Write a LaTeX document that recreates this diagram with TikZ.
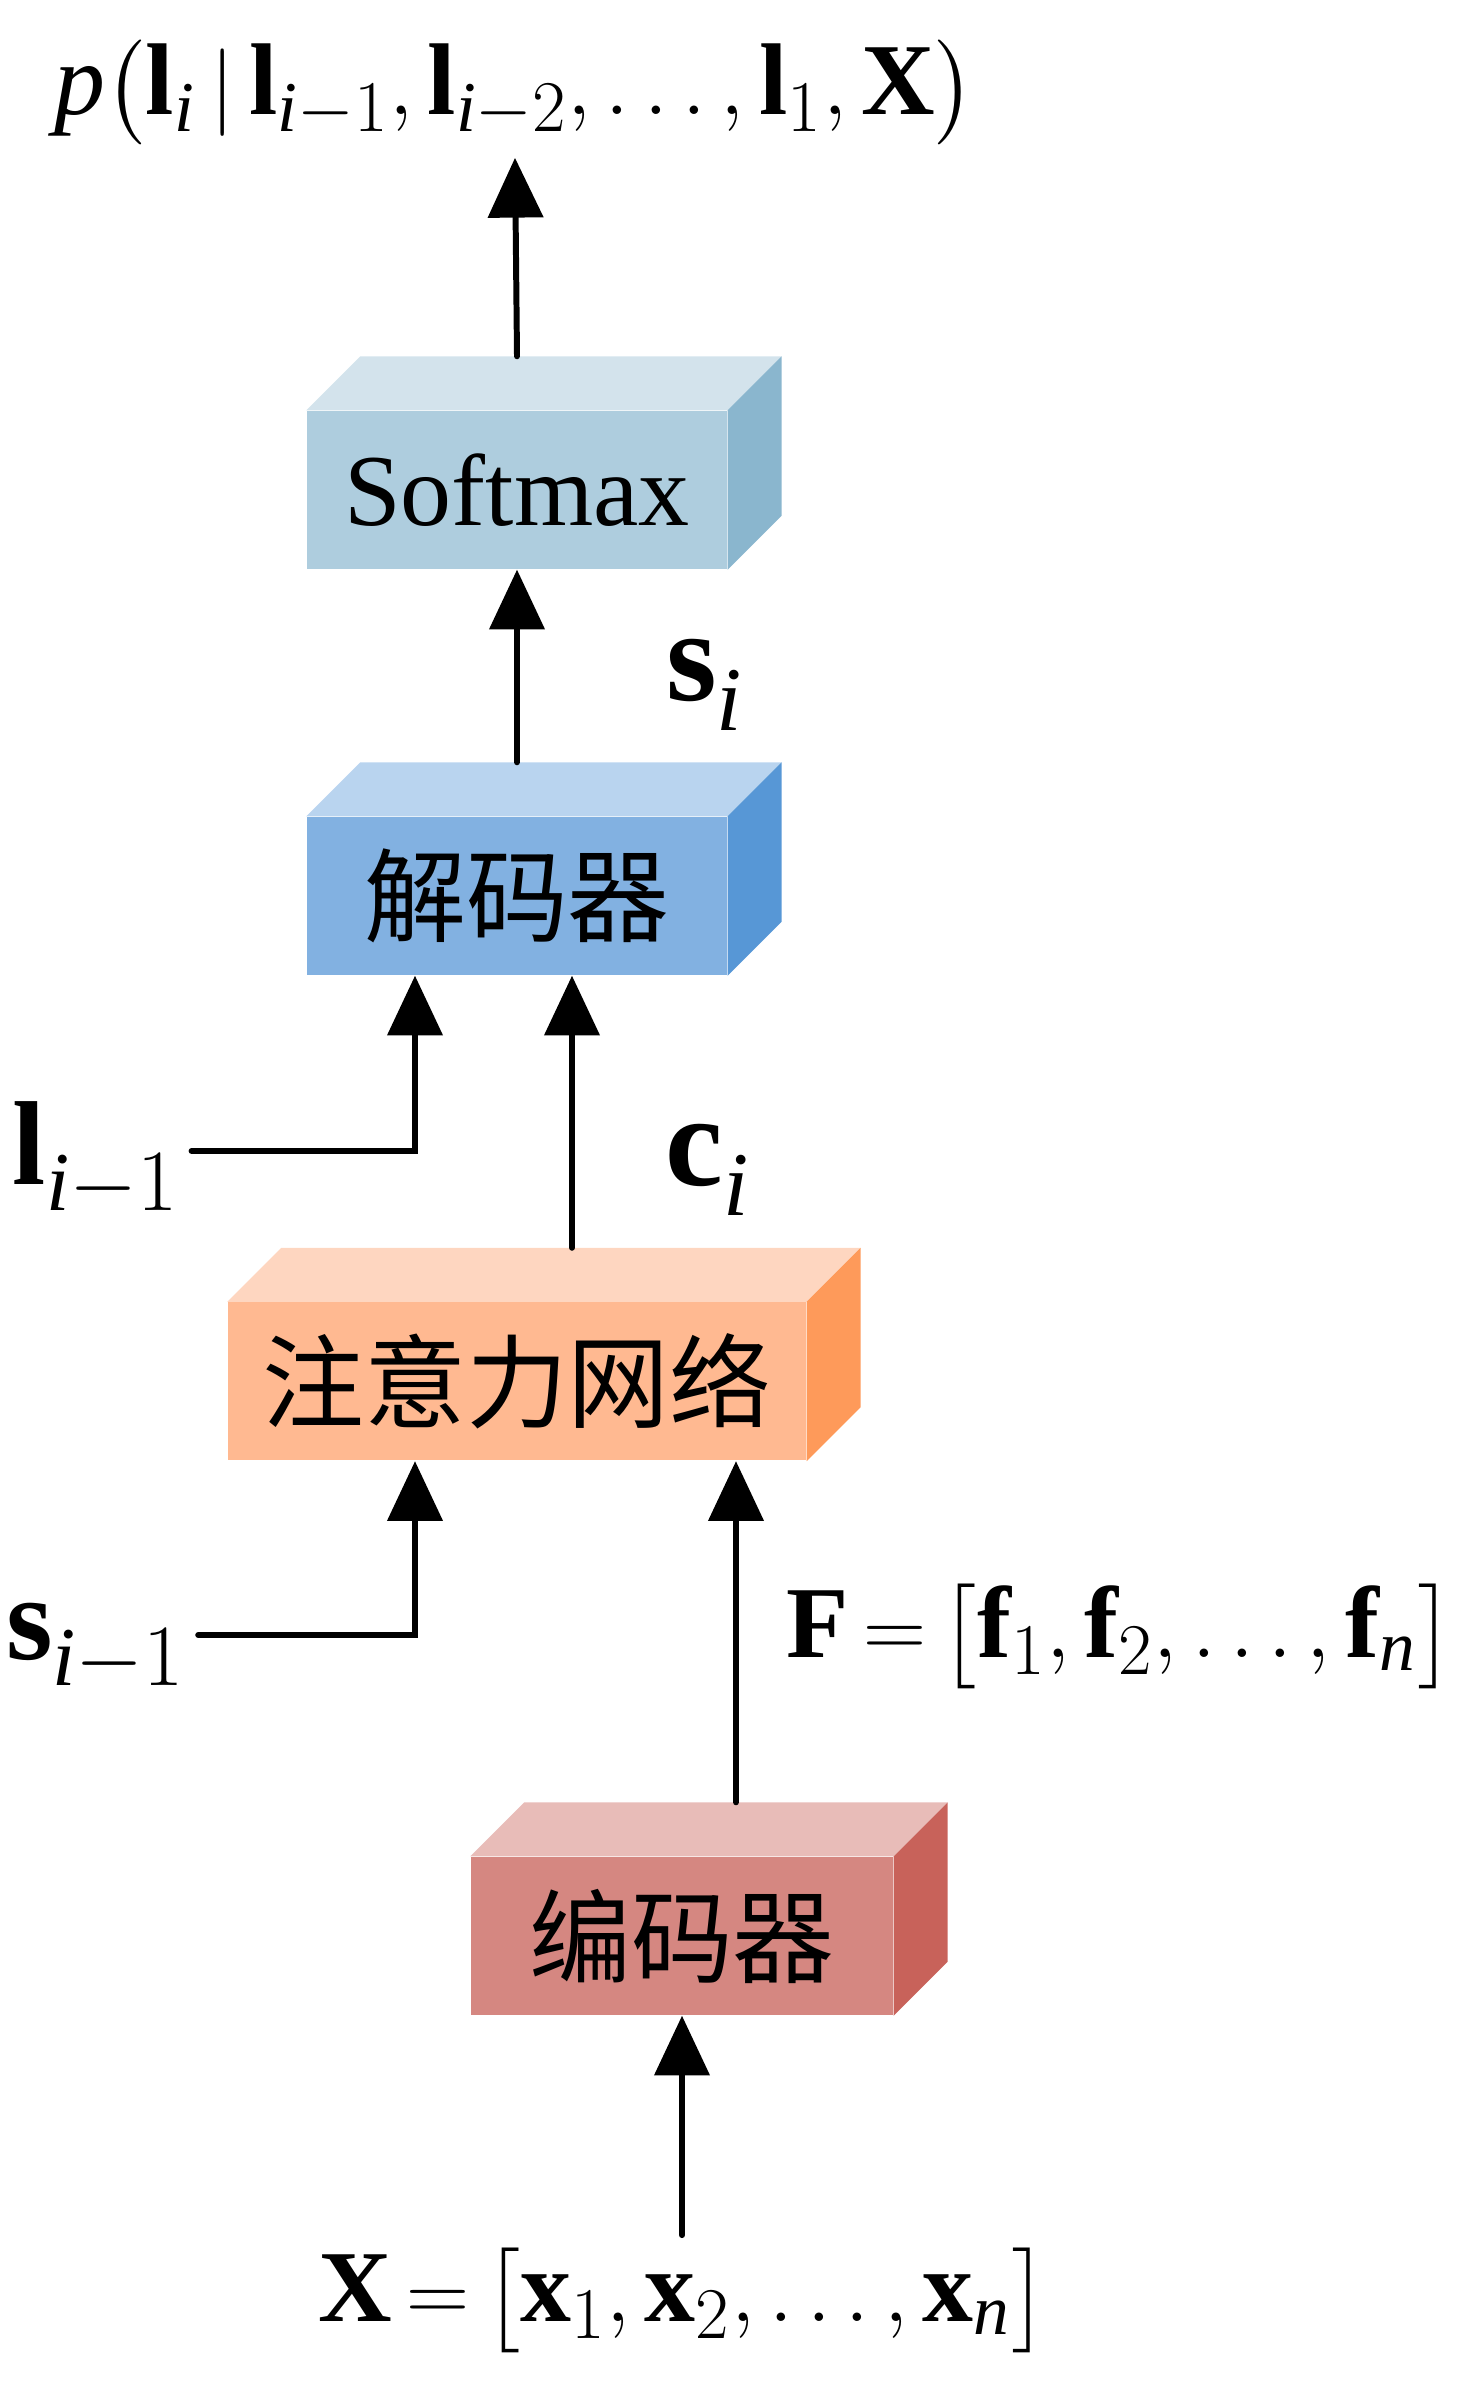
\documentclass[tikz,border=0pt]{standalone}
\usepackage{amsmath}
\usepackage{exscale}
\usepackage{fontspec}
\setmainfont{Liberation Serif}
\newfontfamily\cjk{Noto Sans CJK SC}
\usetikzlibrary{calc}
\usetikzlibrary{arrows.meta}
\definecolor{softfront}{HTML}{AECDDE}
\definecolor{softtop}{HTML}{D3E3EC}
\definecolor{softside}{HTML}{8AB6CE}
\definecolor{decfront}{HTML}{82B1E1}
\definecolor{dectop}{HTML}{B9D4EF}
\definecolor{decside}{HTML}{5797D6}
\definecolor{attfront}{HTML}{FFB991}
\definecolor{atttop}{HTML}{FED6C0}
\definecolor{attside}{HTML}{FE9A5A}
\definecolor{encfront}{HTML}{D58781}
\definecolor{enctop}{HTML}{E8BCB8}
\definecolor{encside}{HTML}{C8625A}
\def\cuboid[#1:#2](#3)% Syntax: [top colour:side colour] (front node)
{ \fill[#1] (#3.north west) -- ++(.54,.54) -- ($(#3.north east)+(.54,.54)$) -- (#3.north east) -- cycle;
  \fill[#2] (#3.north east) -- ++(.54,.54) -- ($(#3.south east)+(.54,.54)$) -- (#3.south east) -- cycle; }
\newcommand{\ii}{\mathit{i}}
\tikzset{
	flow/.style={line width=1.7pt, line cap=round, -{Triangle[width=15.5pt,length=17pt]}},
	cuboid front/.style={minimum height=1.58cm, inner sep=0pt},
	big label/.style={font=\fontsize{37}{42}\selectfont},
	side label/.style={font=\fontsize{34}{39}\selectfont},
}

\begin{document}
\begin{tikzpicture}[font=\fontsize{29}{34}\selectfont]
	\useasboundingbox (0,0) rectangle (14.6,23.85);
	\node[cuboid front, fill=softfront, minimum width=4.2cm] (softmax) at (5.17,18.95) {Softmax};
	\cuboid[softtop:softside](softmax)
	\node[cuboid front, fill=decfront, minimum width=4.2cm] (decoder) at (5.17,14.89) {\cjk 解码器};
	\cuboid[dectop:decside](decoder)
	\node[cuboid front, fill=attfront, minimum width=5.78cm] (attention) at (5.17,10.035) {\cjk 注意力网络};
	\cuboid[atttop:attside](attention)
	\node[cuboid front, fill=encfront, minimum width=4.22cm] (encoder) at (6.82,4.49) {\cjk 编码器};
	\cuboid[enctop:encside](encoder)
	% labels
	\node (prob) at (5.15,22.92) {$\mathit{p}\bigl(\mathbf{l}_\ii\,|\,\mathbf{l}_{\ii{-}1},\mathbf{l}_{\ii{-}2},\ldots,\mathbf{l}_1,\mathbf{X}\bigr)$};
	\node[big label] (si) at (7.05,17.0) {$\mathbf{s}_\ii$};
	\node[side label] (lprev) at (0.96,12.25) {$\mathbf{l}_{\ii{-}1}$};
	\node[big label] (ci) at (7.08,12.15) {$\mathbf{c}_\ii$};
	\node[side label] (sprev) at (0.96,7.37) {$\mathbf{s}_{\ii{-}1}$};
	\node (fvec) at (11.2,7.49) {$\mathbf{F}\,{=}\,\bigl[\mathbf{f}_1,\mathbf{f}_2,\ldots,\mathbf{f}_{\mathit{n}}\bigr]$};
	\node (xvec) at (6.83,0.85) {$\mathbf{X}\,{=}\,\bigl[\mathbf{x}_1,\mathbf{x}_2,\ldots,\mathbf{x}_{\mathit{n}}\bigr]$};
	\coordinate (lbend) at (4.15,12.34);
	\coordinate (sbend) at (4.15,7.5);
	\coordinate (ftail) at ([xshift=.54cm,yshift=.54cm]encoder.north);
	% arrows
	\draw[flow] ([yshift=.54cm]softmax.north) -- (prob.south);
	\draw[flow] ([yshift=.54cm]decoder.north) -- (softmax.south);
	\draw[flow] (lprev.east |- lbend) -- (lbend) -- (lbend |- decoder.south);
	\draw[flow] ([xshift=.55cm,yshift=.54cm]attention.north) -- ([xshift=.55cm]decoder.south);
	\draw[flow] (sprev.east |- sbend) -- (sbend) -- (sbend |- attention.south);
	\draw[flow] (ftail) -- (ftail |- attention.south);
	\draw[flow] (xvec.north -| encoder.south) -- (encoder.south);
\end{tikzpicture}
\end{document}
